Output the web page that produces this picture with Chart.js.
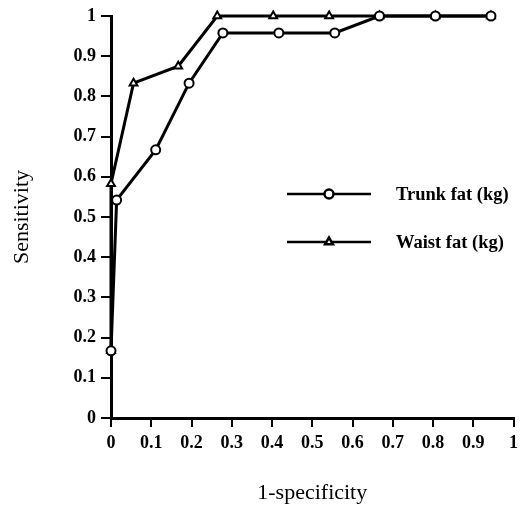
<!DOCTYPE html>
<html>
<head>
<meta charset="utf-8">
<script src="https://cdn.jsdelivr.net/npm/chart.js@4.4.0/dist/chart.umd.min.js"></script>
<style>
  html, body { margin: 0; padding: 0; background: #fff; }
  #wrap { width: 520px; height: 506px; }
</style>
</head>
<body>
<div id="wrap"><canvas id="roc" width="520" height="506"></canvas></div>
<script>
  // ROC curve data (1-specificity, sensitivity)
  const trunkX = [0, 0.014, 0.111, 0.194, 0.278, 0.417, 0.556, 0.667, 0.806, 0.944];
  const trunkY = [0.167, 0.542, 0.667, 0.833, 0.958, 0.958, 0.958, 1, 1, 1];
  const waistX = [0, 0, 0.056, 0.167, 0.264, 0.403, 0.542, 0.667, 0.806, 0.944];
  const waistY = [0.167, 0.583, 0.833, 0.875, 1, 1, 1, 1, 1, 1];
  const seriesNames = ['Trunk fat (kg)', 'Waist fat (kg)'];

  const serif = '"Liberation Serif", "DejaVu Serif", serif';
  const toPoints = (xs, ys) => xs.map((x, i) => ({ x: x, y: ys[i] }));

  // Legend drawn inside the plot area, as in the original figure
  const insideLegend = {
      id: 'insideLegend',
      afterDatasetsDraw(chart) {
          const c = chart.ctx;
          const rows = [
              { y: 194, style: 'circle' },
              { y: 242, style: 'triangle' }
          ];
          c.save();
          rows.forEach((row, i) => {
              c.strokeStyle = '#000';
              c.lineWidth = 2.5;
              c.beginPath();
              c.moveTo(287, row.y);
              c.lineTo(371, row.y);
              c.stroke();
              c.fillStyle = '#fff';
              Chart.helpers.drawPoint(c, {
                  pointStyle: row.style,
                  radius: 4.5,
                  borderWidth: 2,
                  rotation: 0
              }, 329, row.y);
              c.fillStyle = '#000';
              c.font = 'bold 18.5px ' + serif;
              c.textBaseline = 'middle';
              c.textAlign = 'left';
              c.fillText(seriesNames[i], 396, row.y + 1);
          });
          c.restore();
      }
  };

  const ctx = document.getElementById('roc').getContext('2d');
  const chart = new Chart(ctx, {
      type: 'line',
      data: {
          datasets: [{
              label: seriesNames[0],
              data: toPoints(trunkX, trunkY),
              borderColor: '#000',
              borderWidth: 3,
              pointStyle: 'circle',
              pointRadius: 4.5,
              pointBorderWidth: 2,
              pointBackgroundColor: '#fff',
              pointBorderColor: '#000',
              tension: 0,
              clip: false
          }, {
              label: seriesNames[1],
              data: toPoints(waistX, waistY),
              borderColor: '#000',
              borderWidth: 3,
              pointStyle: 'triangle',
              pointRadius: 4.5,
              pointBorderWidth: 2,
              pointBackgroundColor: '#fff',
              pointBorderColor: '#000',
              tension: 0,
              clip: false
          }]
      },
      options: {
          responsive: false,
          animation: false,
          layout: { padding: { top: 16, right: 4, bottom: 0, left: 0 } },
          plugins: {
              legend: { display: false },
              tooltip: { enabled: false }
          },
          scales: {
              x: {
                  type: 'linear',
                  min: 0,
                  max: 1,
                  afterFit: function(scale) {
                      scale.height = 88;
                      scale.paddingRight = 0;
                  },
                  grid: {
                      drawOnChartArea: false,
                      drawTicks: true,
                      tickLength: 9,
                      color: '#000',
                      lineWidth: 2
                  },
                  border: { display: true, color: '#000', width: 3 },
                  ticks: {
                      stepSize: 0.1,
                      color: '#000',
                      padding: 6,
                      maxRotation: 0,
                      autoSkip: false,
                      font: { family: serif, size: 18, weight: 'bold' },
                      callback: function(value) { return +value.toFixed(1); }
                  },
                  title: {
                      display: true,
                      text: '1-specificity',
                      color: '#000',
                      font: { family: serif, size: 22 },
                      padding: { top: 0, bottom: 0 }
                  }
              },
              y: {
                  min: 0,
                  max: 1,
                  afterFit: function(scale) { scale.width = 111; },
                  grid: {
                      drawOnChartArea: false,
                      drawTicks: true,
                      tickLength: 10,
                      color: '#000',
                      lineWidth: 2
                  },
                  border: { display: true, color: '#000', width: 3 },
                  ticks: {
                      stepSize: 0.1,
                      color: '#000',
                      padding: 5,
                      font: { family: serif, size: 18, weight: 'bold' },
                      callback: function(value) { return +value.toFixed(1); }
                  },
                  title: {
                      display: true,
                      text: 'Sensitivity',
                      color: '#000',
                      font: { family: serif, size: 22 },
                      padding: { top: 9, bottom: 0 }
                  }
              }
          }
      },
      plugins: [insideLegend]
  });
</script>
</body>
</html>
